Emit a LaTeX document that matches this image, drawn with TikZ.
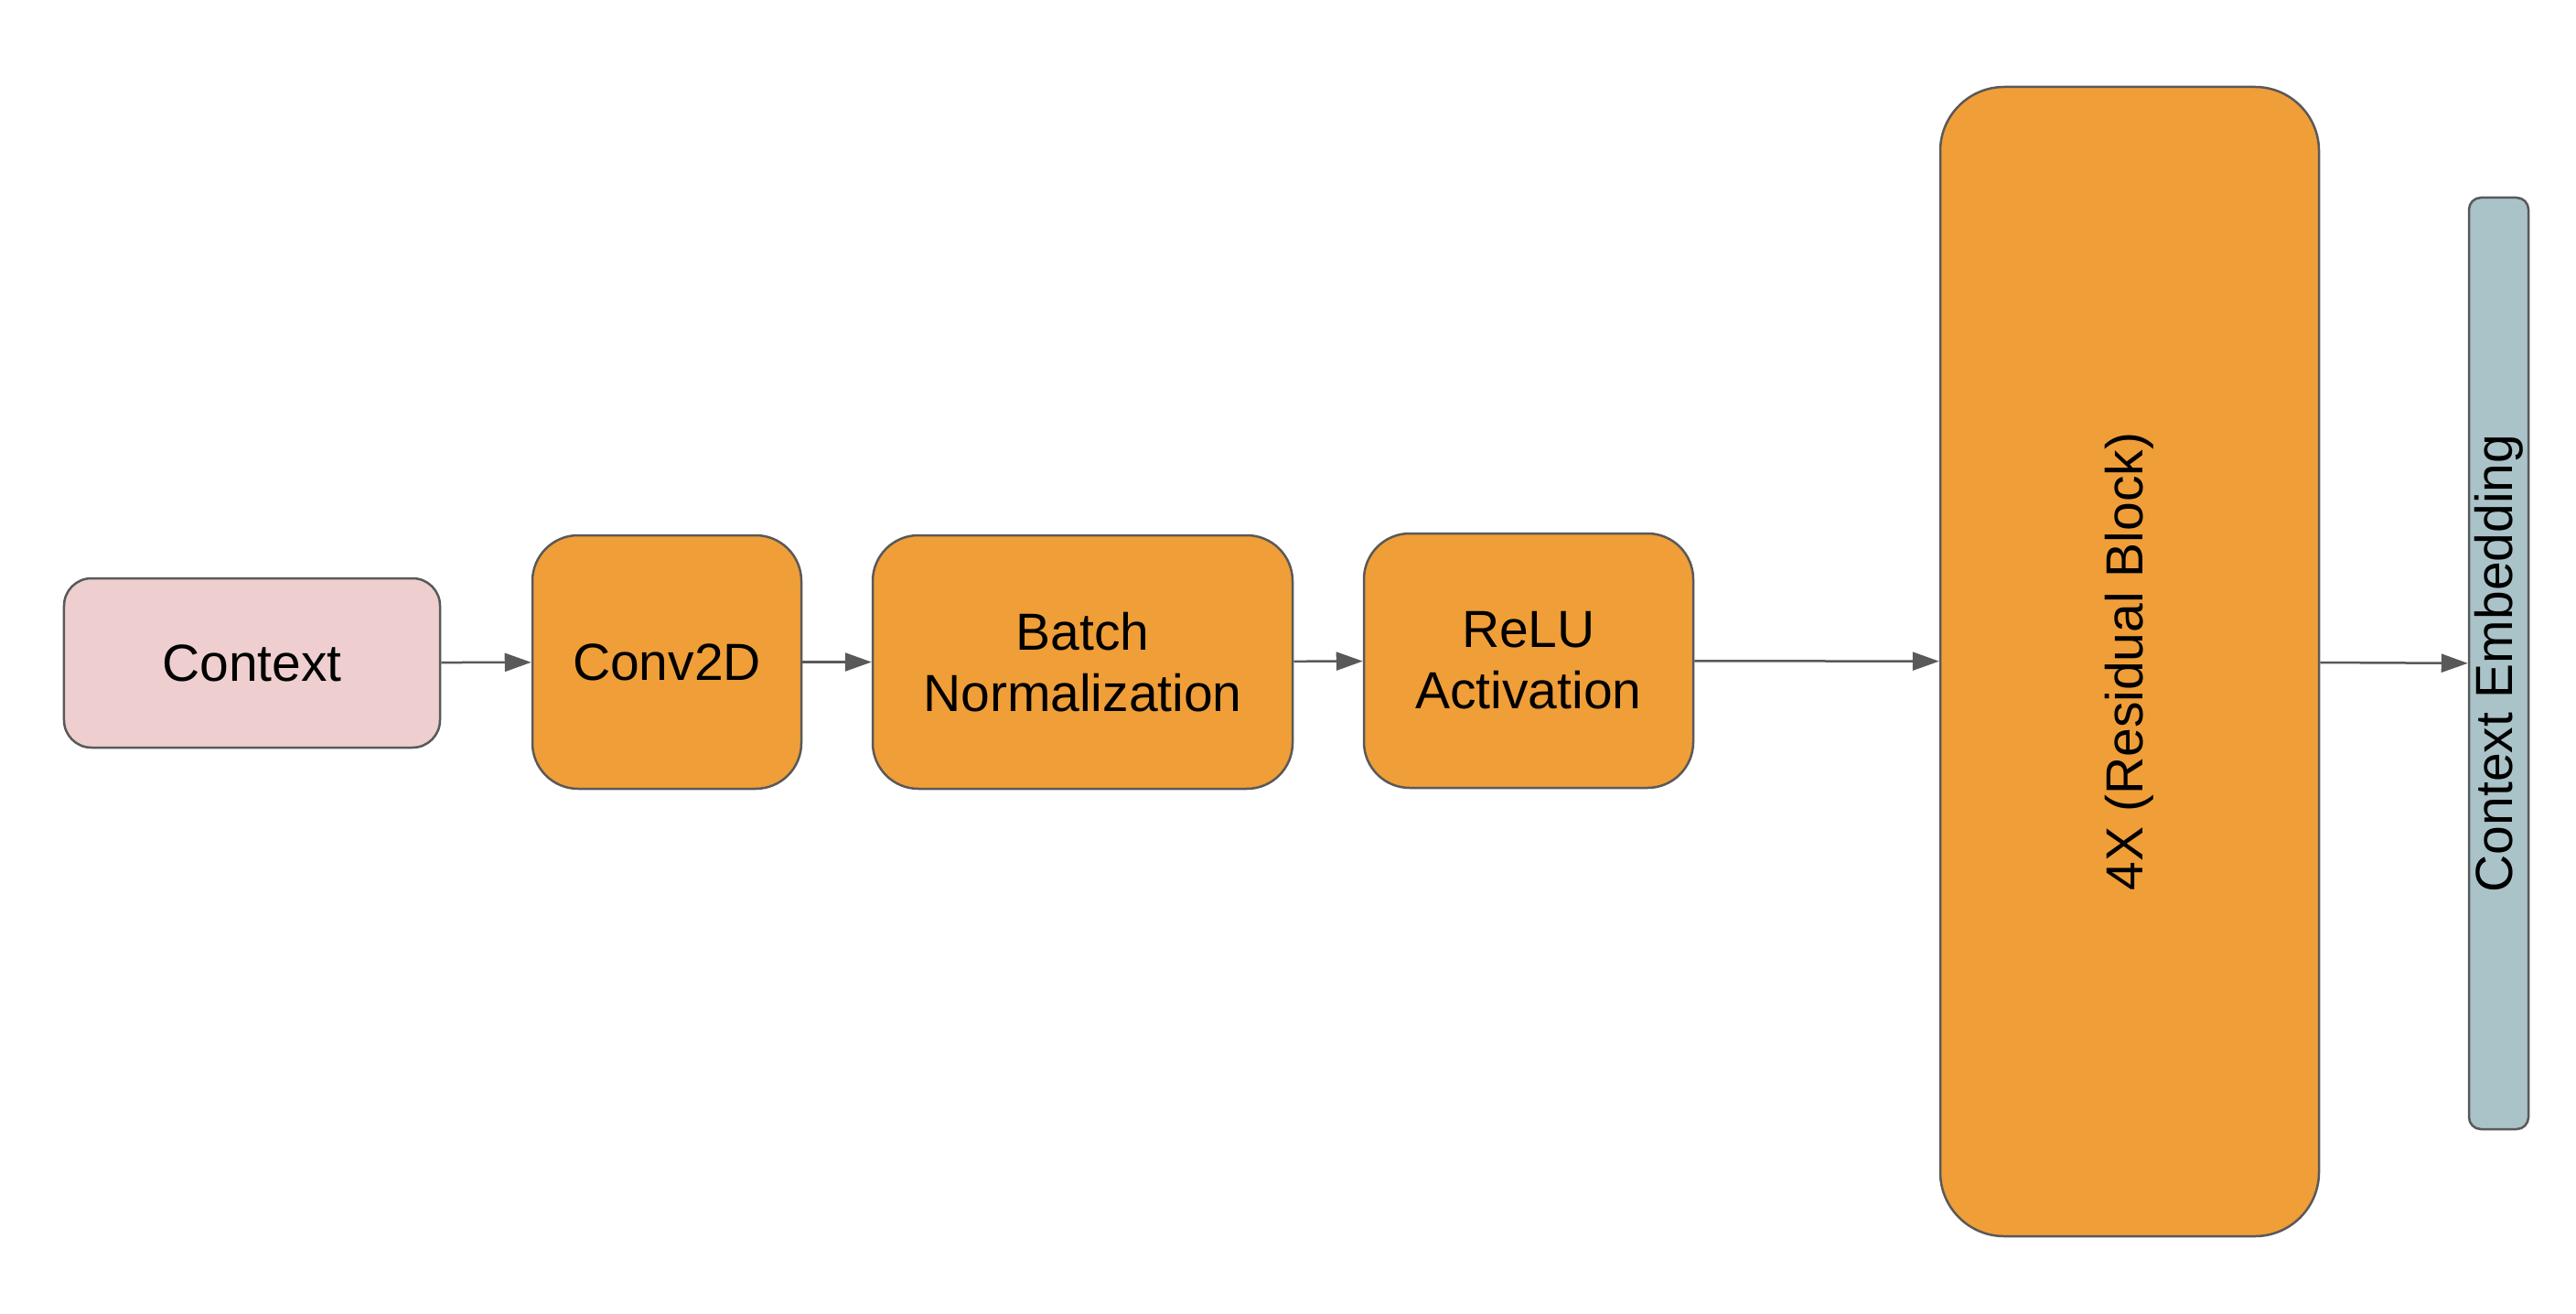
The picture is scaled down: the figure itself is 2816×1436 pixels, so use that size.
\documentclass[tikz,border=0pt]{standalone}
\usepackage{fontspec}
\setmainfont{Liberation Sans}
\usetikzlibrary{arrows.meta}
\definecolor{strokegray}{HTML}{595959}
\definecolor{pinkfill}{HTML}{EECECE}
\definecolor{orangefill}{HTML}{F09E38}
\definecolor{bluefill}{HTML}{A9C3C8}
\begin{document}
\begin{tikzpicture}[x=1bp,y=-1bp,
  blk/.style={draw=strokegray, line width=2.5bp, inner sep=0pt, align=center,
    font=\fontsize{57bp}{67bp}\selectfont},
  orangeblk/.style={blk, fill=orangefill, rounded corners=50bp},
  conn/.style={draw=strokegray, line width=2.5bp, -{Triangle[length=29bp,width=20bp]}}]
\fill[white] (0,0) rectangle (2816,1436);
\useasboundingbox (0,0) rectangle (2816,1436);
\node[blk, fill=pinkfill, rounded corners=30bp, minimum width=411bp, minimum height=185bp] (ctx) at (275.5,724.5) {Context};
\node[orangeblk, minimum width=294bp, minimum height=277bp] (conv) at (729,723.5) {Conv2D};
\node[orangeblk, minimum width=459bp, minimum height=277bp] (bn) at (1183.5,723.5) {Batch\\Normalization};
\node[orangeblk, minimum width=360bp, minimum height=278bp] (relu) at (1671,722) {ReLU\\Activation};
\node[orangeblk, rounded corners=70bp, minimum width=414bp, minimum height=1256bp] (res) at (2328,723) {\rotatebox{90}{4X (Residual Block)}};
\node[blk, fill=bluefill, rounded corners=13bp, minimum width=65bp, minimum height=1018bp] (emb) at (2731.5,725) {\rotatebox{90}{Context Embedding}};
\draw[conn] (ctx) -- (conv);
\draw[conn] (conv) -- (bn);
\draw[conn] (bn) -- (relu);
\draw[conn] (relu) -- (res);
\draw[conn] (res) -- (emb);
\end{tikzpicture}
\end{document}
